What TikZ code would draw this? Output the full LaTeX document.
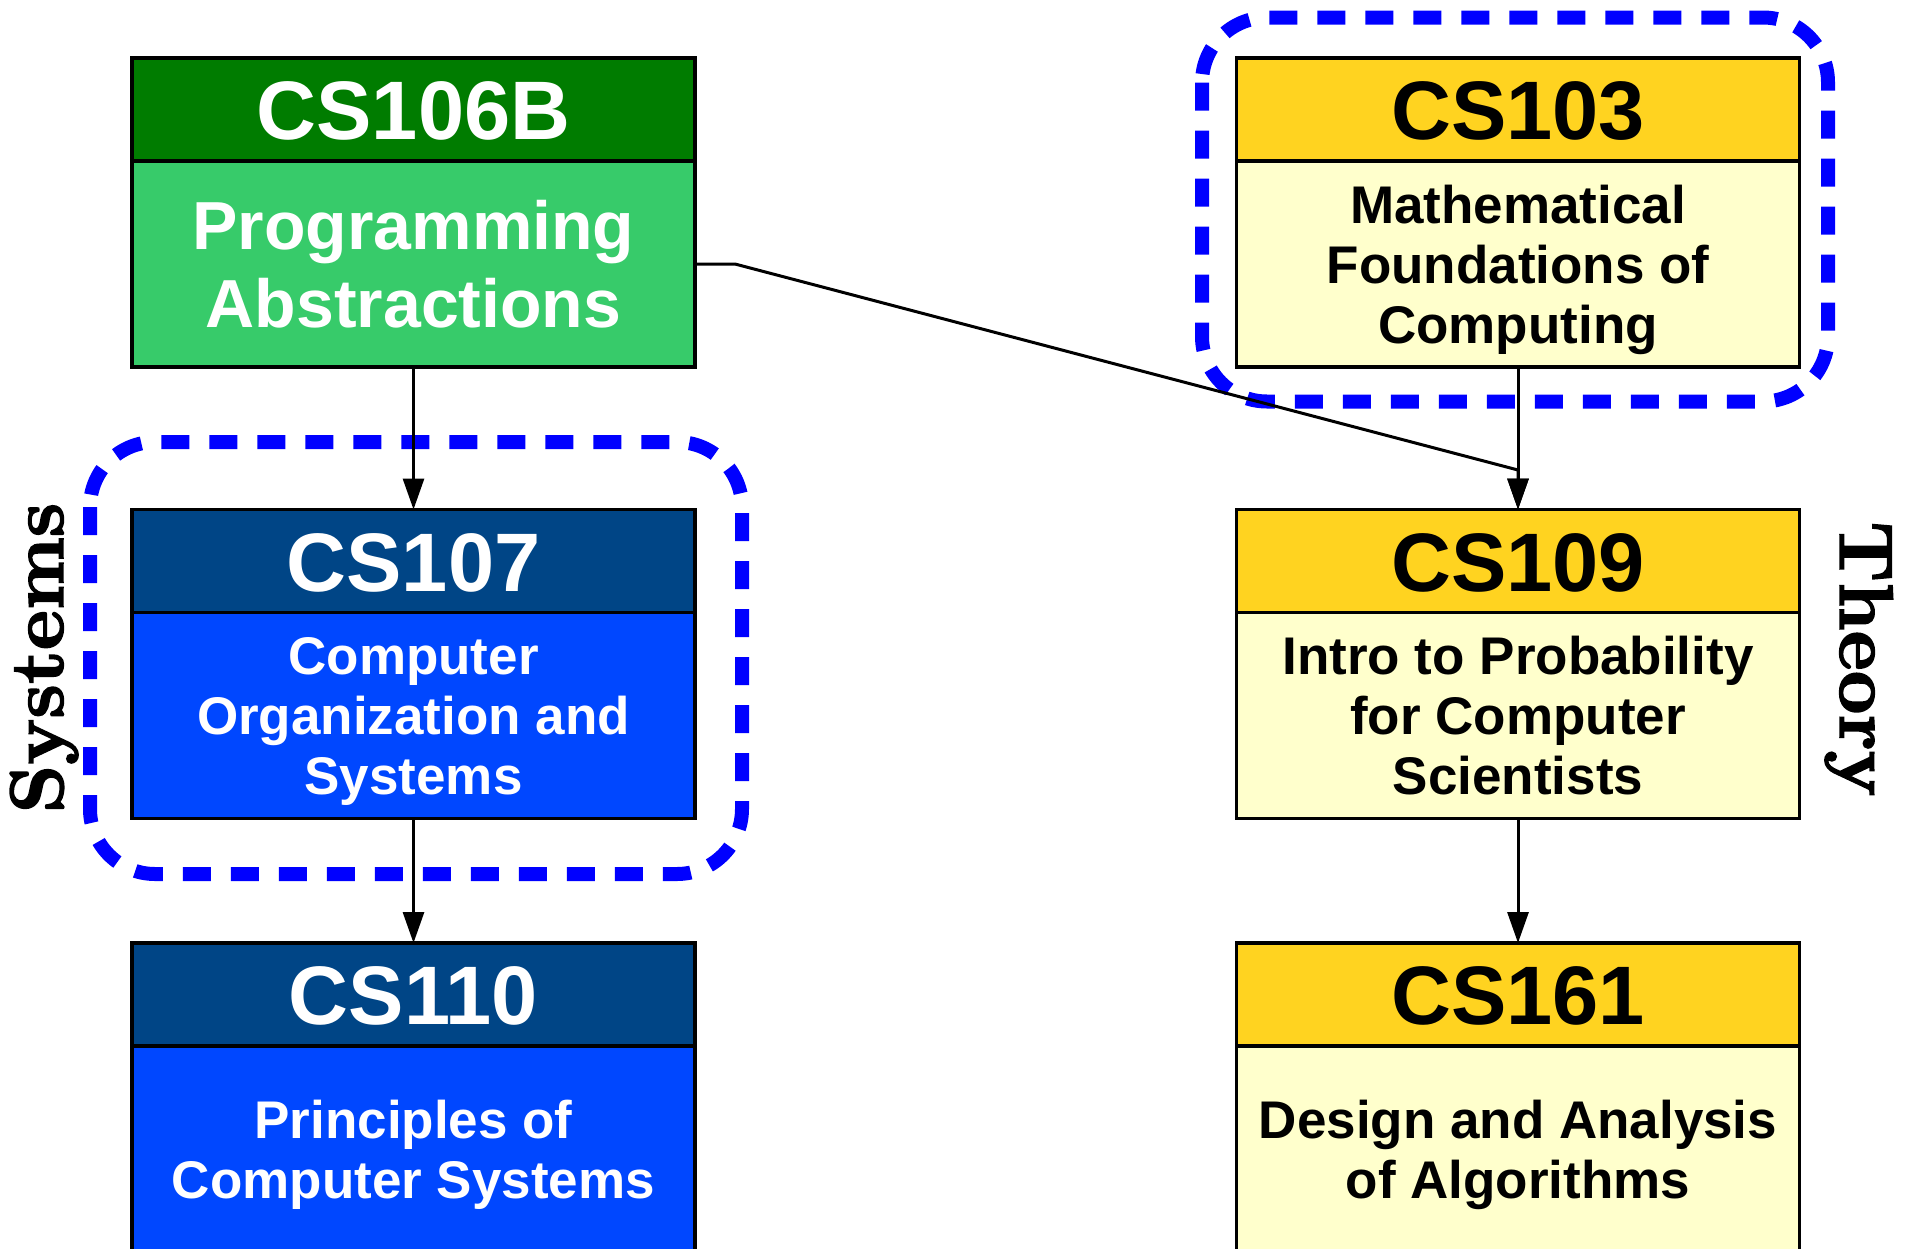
\documentclass[tikz,border=0pt]{standalone}
\usepackage{fontspec}
\usetikzlibrary{arrows.meta}
\newfontfamily\lsans{Liberation Sans}
\newfontfamily\lmbx{lmroman10-bold.otf}[FakeBold=2]

% struts that give every text block the same top and bottom
\newcommand\tstrut{\rule{0pt}{0.94em}}
\newcommand\dstrut{\rule[-0.21em]{0pt}{0.21em}}

\definecolor{hgreen}{HTML}{007C00}
\definecolor{bgreen}{HTML}{37CB6A}
\definecolor{hnavy}{HTML}{004586}
\definecolor{bblue}{HTML}{0047FF}
\definecolor{hgold}{HTML}{FFD320}
\definecolor{bcream}{HTML}{FFFFCC}
\definecolor{grpblue}{HTML}{0000FF}

\tikzset{
  coursehead/.style={rectangle, draw=black, line width=3.3pt,
    minimum width=563pt, minimum height=103pt, inner sep=0pt, outer sep=0pt,
    font=\lsans\bfseries\fontsize{83}{90}\selectfont},
  coursebody/.style={rectangle, draw=black, line width=3.3pt,
    minimum width=563pt, minimum height=206pt, inner sep=0pt, outer sep=0pt,
    align=center, anchor=north,
    font=\lsans\bfseries\fontsize{53}{60}\selectfont},
  bigbody/.style={font=\lsans\bfseries\fontsize{68}{78}\selectfont},
  conn/.style={draw=black, line width=3pt,
    -{Triangle[length=31pt, width=21pt]}},
  track/.style={draw=grpblue, line width=14pt, rounded corners=65pt,
    dash pattern=on 28pt off 20pt},
  tracklabel/.style={font=\lmbx\fontsize{76}{80}\selectfont,
    inner sep=0pt, anchor=base}
}

\begin{document}
\begin{tikzpicture}[x=1pt, y=-1pt]
\useasboundingbox (0,0) rectangle (1909,1248);
\clip (0,0) rectangle (1909,1248);

% track outlines
\draw[track] (90,442) rectangle (742,874);
\draw[track] (1202,17.5) rectangle (1828,401.5);

% track labels
\node[tracklabel, rotate=90] (systems) at (63,658) {Systems};
\node[tracklabel, rotate=-90] (theory) at (1840,659) {Theory};

% systems column
\node[coursehead, fill=hgreen, text=white] (cs106b-h) at (413.5,109.5) {\tstrut CS106B\dstrut};
\node[coursebody, bigbody, fill=bgreen, text=white] (cs106b) at (cs106b-h.south)
  {\tstrut Programming\\Abstractions\dstrut};

\node[coursehead, fill=hnavy, text=white] (cs107-h) at (413.5,561) {\tstrut CS107\dstrut};
\node[coursebody, fill=bblue, text=white] (cs107) at (cs107-h.south)
  {\tstrut Computer\\Organization and\\Systems\dstrut};

\node[coursehead, fill=hnavy, text=white] (cs110-h) at (413.5,994.5) {\tstrut CS110\dstrut};
\node[coursebody, fill=bblue, text=white] (cs110) at (cs110-h.south)
  {\tstrut Principles of\\Computer Systems\dstrut};

% theory column
\node[coursehead, fill=hgold, text=black] (cs103-h) at (1518,109.5) {\tstrut CS103\dstrut};
\node[coursebody, fill=bcream, text=black] (cs103) at (cs103-h.south)
  {\tstrut Mathematical\\Foundations of\\Computing\dstrut};

\node[coursehead, fill=hgold, text=black] (cs109-h) at (1518,561) {\tstrut CS109\dstrut};
\node[coursebody, fill=bcream, text=black] (cs109) at (cs109-h.south)
  {\tstrut Intro to Probability\\for Computer\\Scientists\dstrut};

\node[coursehead, fill=hgold, text=black] (cs161-h) at (1518,994.5) {\tstrut CS161\dstrut};
\node[coursebody, fill=bcream, text=black] (cs161) at (cs161-h.south)
  {\tstrut Design and Analysis\\of Algorithms\dstrut};

% prerequisite arrows
\coordinate (bend) at (735,264);
\coordinate (join) at (1518,470);
\draw[conn] (cs106b.south) -- (cs107-h.north);
\draw[conn] (cs107.south) -- (cs110-h.north);
\draw[conn] (cs103.south) -- (cs109-h.north);
\draw[conn] (cs109.south) -- (cs161-h.north);
\draw[conn] (cs106b.east) -- (bend) -- (join) -- (cs109-h.north);
\end{tikzpicture}
\end{document}
